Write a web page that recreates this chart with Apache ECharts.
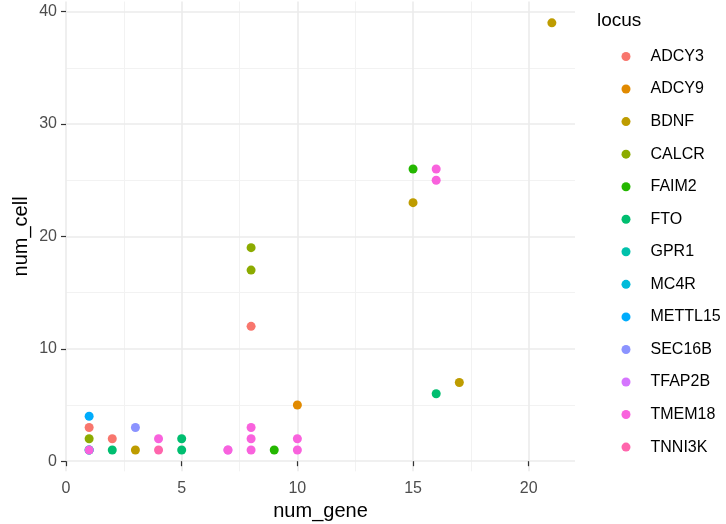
<!DOCTYPE html>
<html>
<head>
<meta charset="utf-8">
<script src="https://cdn.jsdelivr.net/npm/echarts@6/dist/echarts.min.js"></script>
<style>
  html, body { margin: 0; padding: 0; background: #fff; }
  #container { width: 726px; height: 524px; }
</style>
</head>
<body>
<div id="container"></div>
<script>
// loci in legend order
var loci = ['ADCY3', 'ADCY9', 'BDNF', 'CALCR', 'FAIM2', 'FTO', 'GPR1',
  'MC4R', 'METTL15', 'SEC16B', 'TFAP2B', 'TMEM18', 'TNNI3K'];

// [num_gene, num_cell] per locus
var adcy3 = [[1, 3], [2, 2], [8, 12]];
var adcy9 = [[10, 5]];
var bdnf = [[3, 1], [15, 23], [17, 7], [21, 39]];
var calcr = [[1, 2], [8, 17], [8, 19]];
var faim2 = [[9, 1], [15, 26]];
var fto = [[2, 1], [5, 1], [5, 2], [16, 6]];
var gpr1 = [[1, 1]];
var mc4r = [[1, 1]];
var mettl15 = [[1, 4]];
var sec16b = [[3, 3]];
var tfap2b = [[7, 1]];
var tmem18 = [[1, 1], [4, 2], [7, 1], [8, 1], [8, 2], [8, 3], [10, 1], [10, 2], [16, 25], [16, 26]];
var tnni3k = [[4, 1]];

var pointsByLocus = [adcy3, adcy9, bdnf, calcr, faim2, fto, gpr1, mc4r, mettl15, sec16b, tfap2b, tmem18, tnni3k];

var xMajor = [0, 5, 10, 15, 20];
var xMinor = [2.5, 7.5, 12.5, 17.5];
var yMajor = [0, 10, 20, 30, 40];
var yMinor = [5, 15, 25, 35];

// ggplot hue palette for 13 levels
var palette = ['#F8766D', '#E18A00', '#BE9C00', '#8CAB00', '#24B700', '#00BE70', '#00C1AB',
  '#00BBDA', '#00ACFC', '#8B93FF', '#D575FE', '#F962DD', '#FF65AC'];

var font = 'Liberation Sans, Arial, Helvetica, sans-serif';

var chart = echarts.init(document.getElementById('container'));

// grid lines drawn as markLines so minor/major widths match ggplot
var gridLines = [];
xMinor.forEach(function (v) { gridLines.push({ xAxis: v, lineStyle: { color: '#F2F2F2', width: 1 } }); });
yMinor.forEach(function (v) { gridLines.push({ yAxis: v, lineStyle: { color: '#F2F2F2', width: 1 } }); });
xMajor.forEach(function (v) { gridLines.push({ xAxis: v, lineStyle: { color: '#EBEBEB', width: 1.6 } }); });
yMajor.forEach(function (v) { gridLines.push({ yAxis: v, lineStyle: { color: '#EBEBEB', width: 1.6 } }); });

var series = [{
  type: 'scatter',
  data: [],
  silent: true,
  z: 0,
  markLine: {
    silent: true,
    symbol: 'none',
    z: 0,
    animation: false,
    label: { show: false },
    lineStyle: { type: 'solid' },
    data: gridLines
  }
}];

loci.forEach(function (name, i) {
  series.push({
    name: name,
    type: 'scatter',
    z: 2,
    symbol: 'circle',
    symbolSize: 9,
    itemStyle: { color: palette[i], opacity: 1 },
    data: pointsByLocus[i]
  });
});

var option = {
  animation: false,
  backgroundColor: '#ffffff',
  textStyle: { fontFamily: font },
  title: {
    text: 'locus',
    left: 597,
    top: 11,
    padding: 0,
    textStyle: { fontFamily: font, fontSize: 19, fontWeight: 'normal', color: '#000' }
  },
  legend: {
    data: loci,
    orient: 'vertical',
    left: 621.5,
    top: 48.5,
    padding: 0,
    itemWidth: 9,
    itemHeight: 9,
    itemGap: 16.55,
    icon: 'circle',
    textStyle: { fontFamily: font, fontSize: 16, lineHeight: 16, color: '#000', padding: [0, 0, 0, 15] }
  },
  grid: {
    left: 66,
    right: 151,
    top: 1.5,
    bottom: 52.7,
    outerBoundsMode: 'none'
  },
  xAxis: {
    type: 'value',
    min: 0,
    max: 22,
    interval: 5,
    name: 'num_gene',
    nameLocation: 'middle',
    nameGap: 30,
    nameMoveOverlap: false,
    nameTextStyle: { fontFamily: font, fontSize: 20, color: '#000' },
    axisLine: { show: false },
    axisTick: { show: true, length: 5, lineStyle: { color: '#333', width: 1.2 }, customValues: xMajor },
    axisLabel: { fontFamily: font, fontSize: 16, color: '#4D4D4D', margin: 9, customValues: xMajor },
    splitLine: { show: false }
  },
  yAxis: {
    type: 'value',
    min: -0.9,
    max: 40.9,
    interval: 10,
    name: 'num_cell',
    nameLocation: 'middle',
    nameGap: 35,
    nameMoveOverlap: false,
    nameTextStyle: { fontFamily: font, fontSize: 20, color: '#000' },
    axisLine: { show: false },
    axisTick: { show: true, length: 5, lineStyle: { color: '#333', width: 1.2 }, customValues: yMajor },
    axisLabel: { fontFamily: font, fontSize: 16, color: '#4D4D4D', margin: 9, customValues: yMajor },
    splitLine: { show: false }
  },
  series: series
};

chart.setOption(option);
</script>
</body>
</html>
